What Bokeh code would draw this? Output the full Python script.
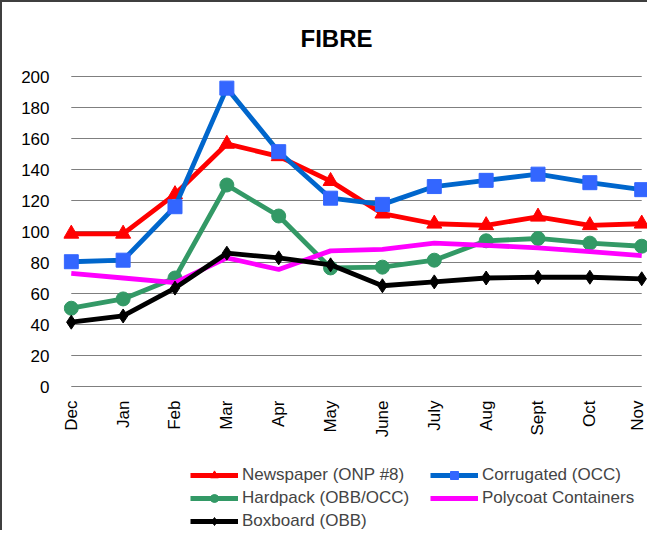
import math
from bokeh.plotting import figure
from bokeh.models import (Range1d, FixedTicker, Legend, LegendItem, ColumnDataSource)
from bokeh.embed import file_html
from bokeh.resources import INLINE

months = ["Dec", "Jan", "Feb", "Mar", "Apr", "May", "June", "July", "Aug", "Sept", "Oct", "Nov"]
newspaper = [98.5, 98.5, 124, 156.5, 148.5, 132.5, 111.5, 105, 104, 109.5, 104, 105]
corrugated = [80.5, 81.5, 116, 192.5, 151.5, 121.5, 117.5, 129, 133, 137, 131.5, 127]
hardpack = [50.5, 56.5, 70, 130, 110, 76.5, 77, 81.5, 94, 95.5, 92.5, 90.5]
polycoat = [73, 70, 67, 83, 75.5, 87.5, 88.5, 92.5, 91, 89.5, 87, 84.5]
boxboard = [41.5, 45.5, 63.5, 86, 83, 78.5, 65, 67.5, 70, 70.5, 70.5, 69.5]
y_ticks = [0, 20, 40, 60, 80, 100, 120, 140, 160, 180, 200]

FONT = "Liberation Sans"
xs = list(range(len(months)))

p = figure(width=647, height=530, output_backend="svg", toolbar_location=None,
           x_range=Range1d(-0.15, len(months) - 1 + 0.15), y_range=Range1d(-94.19, 203.23),
           min_border_left=61, min_border_right=0, min_border_top=69, min_border_bottom=0,
           title="FIBRE")
p.styles = {"border-top": "2px solid #3f3f3f", "border-left": "2px solid #3f3f3f"}
p.outline_line_color = None
p.background_fill_color = "white"
p.border_fill_color = "white"

p.title.text_font = FONT
p.title.text_font_size = "24px"
p.title.text_font_style = "bold"
p.title.text_color = "black"
p.title.align = "left"
p.title.offset = 237
p.title.standoff = 39

# grid lines drawn as segments across the category span
p.xgrid.visible = False
p.ygrid.visible = False
p.segment(x0=[xs[0]] * len(y_ticks), x1=[xs[-1]] * len(y_ticks), y0=y_ticks, y1=y_ticks,
          line_color="#7f7f7f", line_width=1.2)

# axes
p.xaxis.ticker = FixedTicker(ticks=xs)
p.xaxis.major_label_overrides = {i: m for i, m in enumerate(months)}
p.xaxis.major_label_orientation = math.pi / 2
p.xaxis.fixed_location = 0
p.yaxis.ticker = FixedTicker(ticks=y_ticks)
for ax in (p.xaxis, p.yaxis):
    ax.axis_line_color = None
    ax.major_tick_line_color = None
    ax.minor_tick_line_color = None
    ax.major_tick_out = 0
    ax.major_tick_in = 0
    ax.major_label_text_font = FONT
    ax.major_label_text_font_size = "17px"
    ax.major_label_text_color = "black"
p.yaxis.major_label_standoff = 14
p.xaxis.major_label_standoff = 14

series = [
    ("Newspaper (ONP #8)", newspaper, "#FF0000", "#FF0000", "triangle", 15),
    ("Corrugated (OCC)", corrugated, "#0066CC", "#3366FF", "square", 14),
    ("Hardpack (OBB/OCC)", hardpack, "#339966", "#339966", "circle", 14),
    ("Polycoat Containers", polycoat, "#FF00FF", None, None, 0),
    ("Boxboard (OBB)", boxboard, "#000000", "#000000", "diamond", 14),
]

items = []
for name, vals, lc, mc, marker, size in series:
    src = ColumnDataSource(dict(x=xs, y=vals))
    rs = [p.line("x", "y", source=src, line_color=lc, line_width=4.8)]
    if marker:
        rs.append(p.scatter("x", "y", source=src, marker=marker, size=size,
                            fill_color=mc, line_color=mc))
    items.append(LegendItem(label=name, renderers=rs))

def make_legend(its, loc):
    return Legend(items=its, location=loc, orientation="vertical",
                  label_text_font=FONT, label_text_font_size="17px",
                  glyph_width=48, glyph_height=20, label_height=20, label_standoff=4,
                  spacing=3, padding=0, margin=0,
                  border_line_color=None, background_fill_alpha=0)

p.add_layout(make_legend([items[0], items[2], items[4]], (127, 1)), "center")
p.add_layout(make_legend([items[1], items[3]], (367, 24)), "center")

open("out.html", "w").write(file_html(p, INLINE))
